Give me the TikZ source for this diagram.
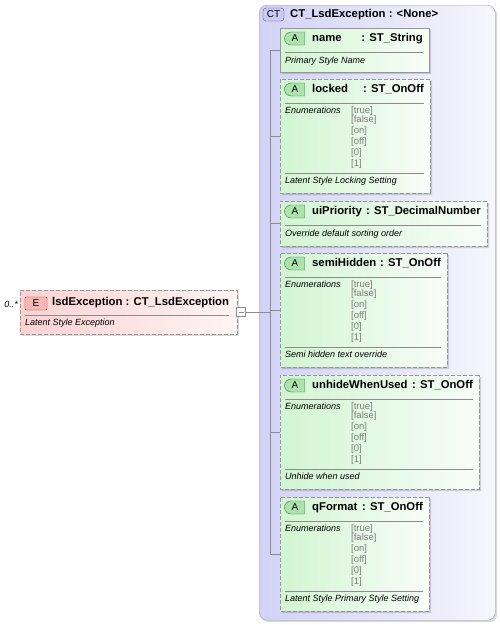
\documentclass[tikz,border=0pt]{standalone}
\usepackage{fontspec}
\setmainfont{Liberation Sans}
\usepackage{tikz}
\usetikzlibrary{positioning,shapes.misc,shadows}
\definecolor{ctleft}{RGB}{210,210,246}
\definecolor{ctright}{RGB}{246,246,253}
\definecolor{ctline}{RGB}{160,160,172}
\definecolor{ctbadge}{RGB}{202,202,242}
\definecolor{ctbadgeline}{RGB}{80,80,130}
\definecolor{attleft}{RGB}{210,245,210}
\definecolor{attright}{RGB}{248,253,248}
\definecolor{attbadge}{RGB}{172,226,172}
\definecolor{attbadgeline}{RGB}{60,110,60}
\definecolor{elleft}{RGB}{252,210,210}
\definecolor{elright}{RGB}{254,244,244}
\definecolor{elbadge}{RGB}{248,182,182}
\definecolor{elbadgeline}{RGB}{150,50,50}
\definecolor{frame}{RGB}{150,150,150}
\definecolor{soft}{RGB}{125,125,125}

% attribute box: [border] id top width height name type
\newcommand{\attbox}[7][dashbox]{%
  \node[att,#1,minimum width=#4pt,minimum height=#5pt] (#2) at (280,#3) {};
  \node[abadge] (#2-a) at (295,#3+10.5) {A};
  \node[atitle,anchor=west] (#2-n) at (312,#3+10.5) {#6};
  \node[atitle,anchor=east] (#2-t) at (274+#4,#3+10.5) {: #7};
  \draw[sepline] (285,#3+24) -- (274+#4,#3+24);
}
% enumeration list: id top width
\newcommand{\attenum}[3]{%
  \node[enumhead] (#1-en) at (285,#2+32) {Enumerations};
  \foreach \val/\dy in {true/32,false/41.5,on/52.5,off/63,0/74,1/85}
    \node[enumval] (#1-\val) at (351,#2+\dy) {[\val]};
  \draw[sepline] (285,#2+94) -- (274+#3,#2+94);
}
\newcommand{\attdesc}[3]{\node[adesc] (#1-d) at (285,#2) {#3};}

\begin{document}
\begin{tikzpicture}[x=1pt,y=-1pt,
  shade/.style={drop shadow={shadow xshift=2pt,shadow yshift=-2pt,fill=black,opacity=0.15}},
  dashbox/.style={dash pattern=on 4pt off 2pt},
  ctbox/.style={rectangle,rounded corners=8pt,anchor=north west,inner sep=0pt,
                draw=ctline,left color=ctleft,right color=ctright,shade},
  ctbadge/.style={rectangle,rounded corners=3pt,draw=ctbadgeline,fill=ctbadge,
                  minimum width=21pt,minimum height=13pt,inner sep=0pt,font=\fontsize{10}{11}\selectfont},
  att/.style={chamfered rectangle,chamfered rectangle corners={north west,south west},
              chamfered rectangle xsep=5pt,chamfered rectangle ysep=5pt,anchor=north west,
              inner sep=0pt,draw=frame,left color=attleft,right color=attright,shade},
  abadge/.style={rounded rectangle,rounded rectangle right arc=none,draw=attbadgeline,
                 fill=attbadge,minimum width=20pt,minimum height=13pt,inner sep=0pt,
                 font=\fontsize{10}{11}\selectfont},
  elem/.style={rectangle,anchor=north west,inner sep=0pt,draw=frame,dashbox,
               left color=elleft,right color=elright,shade},
  ebadge/.style={rectangle,rounded corners=1pt,draw=elbadgeline,fill=elbadge,
                 minimum width=22pt,minimum height=13pt,inner sep=0pt,font=\fontsize{10}{11}\selectfont},
  atitle/.style={inner sep=0pt,font=\fontsize{11.3}{13}\selectfont\bfseries,text height=8pt,text depth=2pt},
  adesc/.style={anchor=west,inner sep=0pt,font=\fontsize{9}{10}\selectfont\itshape,text height=6.5pt,text depth=2pt},
  enumhead/.style={adesc},
  enumval/.style={anchor=west,inner sep=0pt,text=soft,font=\fontsize{9.5}{10}\selectfont,text height=6.5pt,text depth=2pt},
  sepline/.style={draw=black!45,line width=0.8pt},
  conn/.style={draw=black!45,line width=0.8pt},
  minus/.style={rectangle,draw=black!45,fill=white,minimum size=9pt,inner sep=0pt,
                path picture={\draw[black!45] ([xshift=2pt]path picture bounding box.west)
                  -- ([xshift=-2pt]path picture bounding box.east);}}]
  \useasboundingbox (0,0) rectangle (500,625);

  % complex type
  \node[ctbox,minimum width=236pt,minimum height=615pt] (ct) at (259,5) {};
  \node[ctbadge] (ct-b) at (273.5,14.5) {CT};
  \node[atitle,anchor=west] (ct-n) at (290,14.5) {CT\_LsdException : <None>};

  % attributes
  \attbox[solid]{nm}{28}{149}{44}{name}{ST\_String}
  \attdesc{nm}{61}{Primary Style Name}

  \attbox{lk}{79}{150}{114}{locked}{ST\_OnOff}
  \attenum{lk}{79}{150}
  \attdesc{lk}{181}{Latent Style Locking Setting}

  \attbox{ui}{201}{207}{45}{uiPriority}{ST\_DecimalNumber}
  \attdesc{ui}{234}{Override default sorting order}

  \attbox{sh}{253}{167}{114}{semiHidden}{ST\_OnOff}
  \attenum{sh}{253}{167}
  \attdesc{sh}{355}{Semi hidden text override}

  \attbox{uw}{375}{199}{114}{unhideWhenUsed}{ST\_OnOff}
  \attenum{uw}{375}{199}
  \attdesc{uw}{477}{Unhide when used}

  \attbox{qf}{497}{149}{114}{qFormat}{ST\_OnOff}
  \attenum{qf}{497}{149}
  \attdesc{qf}{599}{Latent Style Primary Style Setting}

  % element
  \node[elem,minimum width=217pt,minimum height=44pt] (lsd) at (20,290) {};
  \node[ebadge] (lsd-b) at (36,303.5) {E};
  \node[atitle,anchor=west] (lsd-n) at (52,302) {lsdException : CT\_LsdException};
  \draw[sepline] (25,315) -- (229,315);
  \node[adesc] (lsd-d) at (25,323) {Latent Style Exception};
  \node[adesc,anchor=east] (lsd-m) at (18,305) {0..*};
  \node[minus] (lsd-c) at (241,312) {};

  % connectors
  \coordinate (bus) at (270,312);
  \draw[conn] (lsd-c) -- (bus);
  \draw[conn] (nm.west -| bus) -- (qf.west -| bus);
  \foreach \b in {nm,lk,ui,sh,uw,qf}
    \draw[conn] (\b.west -| bus) -- (\b.west);
\end{tikzpicture}
\end{document}
